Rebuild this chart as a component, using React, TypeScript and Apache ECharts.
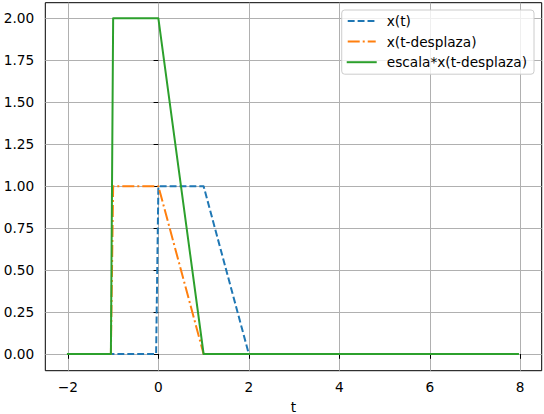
import React, { useEffect, useRef } from "react";
import * as echarts from "echarts";

const tX = [-2, -0.05, 0, 1, 2, 7.95];
const valX = [0, 0, 1, 1, 0, 0];
const tShift = [-2, -1.05, -1, 0, 1, 7.95];
const valShift = [0, 0, 1, 1, 0, 0];
const valScaled = [0, 0, 2, 2, 0, 0];
const xTicks = [-2, 0, 2, 4, 6, 8];
const yTicks = [0, 0.25, 0.5, 0.75, 1, 1.25, 1.5, 1.75, 2];
const seriesNames = ["x(t)", "x(t-desplaza)", "escala*x(t-desplaza)"];

const FONT = "DejaVu Sans";
const FS = 13.7;

export default function App() {
  const ref = useRef<HTMLDivElement>(null);
  useEffect(() => {
    if (!ref.current) return;
    const chart = echarts.init(ref.current, null, { renderer: "svg" });
    const pair = (ts: number[], vs: number[]) => ts.map((t, i) => [t, vs[i]]);
    const gridLine = { show: true, lineStyle: { color: "#b0b0b0", width: 1 } };
    chart.setOption({
      animation: false,
      backgroundColor: "#ffffff",
      textStyle: { fontFamily: FONT },
      grid: {
        left: 45.3,
        right: 2.3,
        top: 2.7,
        bottom: 43.3,
        outerBoundsMode: "none",
        containLabel: false,
        show: true,
        borderColor: "#000",
        borderWidth: 1,
        backgroundColor: "transparent",
      },
      legend: {
        right: 10,
        top: 10,
        orient: "vertical",
        align: "left",
        itemWidth: 28,
        itemHeight: 14,
        itemGap: 6.6,
        padding: [4, 7, 5, 5],
        backgroundColor: "rgba(255,255,255,0.8)",
        borderColor: "#cccccc",
        borderWidth: 1,
        borderRadius: 3,
        itemStyle: { opacity: 0 },
        textStyle: { fontFamily: FONT, fontSize: FS, color: "#000", padding: [0, 0, 0, 6] },
        data: seriesNames,
      },
      xAxis: {
        type: "value",
        min: -2.5,
        max: 8.475,
        name: "t",
        nameLocation: "middle",
        nameGap: 30,
        nameTextStyle: { fontFamily: FONT, fontSize: FS, lineHeight: 13, color: "#000", verticalAlign: "top" },
        axisLine: { show: false },
        axisTick: { show: true, customValues: xTicks, length: 4.8, lineStyle: { color: "#000", width: 1 } },
        axisLabel: {
          customValues: xTicks,
          margin: 9,
          fontFamily: FONT,
          fontSize: FS,
          color: "#000",
          formatter: (v: number) => String(v).replace("-", "\u2212"),
        },
        splitLine: gridLine,
      },
      yAxis: {
        type: "value",
        min: -0.0995,
        max: 2.093,
        axisLine: { show: false },
        axisTick: { show: true, customValues: yTicks, length: 4.8, lineStyle: { color: "#000", width: 1 } },
        axisLabel: {
          customValues: yTicks,
          margin: 11,
          fontFamily: FONT,
          fontSize: FS,
          color: "#000",
          formatter: (v: number) => v.toFixed(2),
        },
        splitLine: gridLine,
      },
      series: [
        {
          name: seriesNames[0],
          type: "line",
          data: pair(tX, valX),
          symbol: "none",
          lineStyle: { color: "#1f77b4", width: 2, type: [6.9, 3], cap: "butt", join: "round" },
          itemStyle: { color: "#1f77b4" },
          z: 2,
        },
        {
          name: seriesNames[1],
          type: "line",
          data: pair(tShift, valShift),
          symbol: "none",
          lineStyle: { color: "#ff7f0e", width: 2, type: [12, 3, 2, 3], cap: "butt", join: "round" },
          itemStyle: { color: "#ff7f0e" },
          z: 3,
        },
        {
          name: seriesNames[2],
          type: "line",
          data: pair(tShift, valScaled),
          symbol: "none",
          lineStyle: { color: "#2ca02c", width: 2, type: "solid", cap: "square", join: "round" },
          itemStyle: { color: "#2ca02c" },
          z: 4,
        },
      ],
    });
    return () => chart.dispose();
  }, []);
  return (
    <div
      ref={ref}
      style={{ position: "fixed", left: 0, top: 0, width: 544, height: 414, background: "#fff" }}
    />
  );
}
